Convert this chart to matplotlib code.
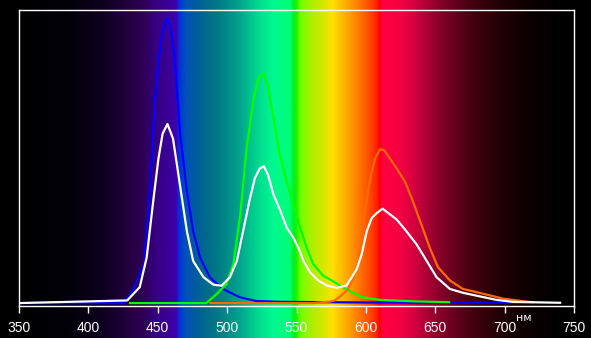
import numpy as np
import matplotlib.pyplot as plt
from matplotlib.colors import LinearSegmentedColormap

# spectrum background: wavelength stops and colours
spec_nm = [350, 385, 410, 430, 440, 448, 458, 463.5, 465, 470, 480, 490, 500, 510,
           524, 533, 545, 548, 550, 553, 560, 570, 576, 585, 595, 603, 608, 610,
           612, 625, 635, 645, 655, 668, 685, 700, 720, 740, 750]
spec_col = ['#000000', '#020008', '#0e0020', '#240040', '#2e0058', '#360080', '#3c0098',
            '#4000b0', '#0030e0', '#0050b8', '#006096', '#007484', '#008a88', '#00a88c',
            '#00e090', '#00f890', '#00ff78', '#00f020', '#20f000', '#70ff00', '#a8f000',
            '#d8e800', '#ffe000', '#ffb000', '#ff7800', '#ff4800', '#ff2000', '#ff0000',
            '#ff0040', '#f40044', '#d4003e', '#a80034', '#820028', '#5a0018', '#320008',
            '#1e0004', '#0a0000', '#000000', '#000000']

# blue channel
blue_nm = [350, 425, 432, 440, 444, 448, 452, 454.5, 457, 460, 462.5, 466, 471, 475.5,
           480.5, 487.5, 497, 509, 521, 540, 600, 716]
blue_val = [0, 0, 0.043, 0.133, 0.358, 0.696, 0.887, 0.944, 0.972, 0.92, 0.81, 0.583,
            0.38, 0.245, 0.155, 0.088, 0.048, 0.02, 0.007, 0.004, 0.002, 0.001]

# green channel
green_nm = [430, 485, 492.5, 499.5, 504.5, 509.5, 514, 519, 522.5, 526.5, 529.5, 533,
            536, 538, 543, 547.7, 552.5, 557.3, 562, 569, 577.5, 587.3, 597, 610, 634, 660]
green_val = [0, 0, 0.031, 0.065, 0.133, 0.302, 0.527, 0.696, 0.769, 0.784, 0.74, 0.64,
             0.56, 0.504, 0.414, 0.335, 0.257, 0.189, 0.133, 0.094, 0.071, 0.043, 0.02,
             0.011, 0.006, 0.003]

# red channel
red_nm = [488, 562, 574, 577.5, 582.3, 587.3, 591, 594.6, 597, 599.4, 601.8, 604.2,
          606.6, 610.2, 613.3, 617.4, 622.2, 628.2, 633, 640, 646, 652, 660.6, 670,
          680, 689.5, 699, 708.7, 718, 720]
red_val = [0, 0, 0.005, 0.009, 0.026, 0.048, 0.088, 0.144, 0.223, 0.313, 0.392, 0.448,
           0.493, 0.525, 0.521, 0.493, 0.459, 0.414, 0.358, 0.268, 0.189, 0.122, 0.077,
           0.048, 0.037, 0.026, 0.015, 0.009, 0.004, 0.003]

# white (sum)
white_nm = [350, 428, 437, 442, 447, 450.5, 453.5, 457, 461, 466, 471, 475.5, 483, 490,
            496, 502, 507, 511.5, 516.5, 520, 523.5, 526.5, 529.5, 533.5, 538, 543,
            547.7, 551.3, 555, 559.7, 565.7, 571.8, 579, 586, 589.8, 593.4, 597, 600.6,
            604.2, 607.8, 612, 616.2, 622.2, 628.2, 636.6, 643.8, 651, 660.6, 670, 682,
            694, 706, 740]
white_val = [0, 0.009, 0.054, 0.155, 0.358, 0.493, 0.578, 0.611, 0.561, 0.403, 0.245,
             0.144, 0.088, 0.063, 0.059, 0.088, 0.144, 0.245, 0.358, 0.426, 0.459, 0.467,
             0.437, 0.369, 0.319, 0.257, 0.223, 0.189, 0.144, 0.105, 0.077, 0.06, 0.052,
             0.06, 0.088, 0.116, 0.167, 0.245, 0.29, 0.307, 0.322, 0.307, 0.285, 0.251,
             0.2, 0.144, 0.088, 0.048, 0.035, 0.023, 0.011, 0.004, 0.001]

xticks = [350, 400, 450, 500, 550, 600, 650, 700, 750]

fig = plt.figure(figsize=(5.91, 3.38), dpi=100, facecolor='black')

left, right = 19 / 591, 574 / 591
bottom, top = 1 - 306 / 338, 1 - 10 / 338

# background gradient over the full figure height
bg = fig.add_axes([left, 0, right - left, 1])
stops = [(n - 350) / 400 for n in spec_nm]
cmap = LinearSegmentedColormap.from_list('spec', list(zip(stops, spec_col)), N=1024)
grad = np.linspace(0, 1, 1200).reshape(1, -1)
bg.imshow(grad, aspect='auto', cmap=cmap, extent=(350, 750, 0, 1), interpolation='bilinear')
bg.set_axis_off()

ax = fig.add_axes([left, bottom, right - left, top - bottom])
ax.patch.set_alpha(0)
lw = 1.6
ax.plot(blue_nm, blue_val, color='#0000ff', lw=lw)
ax.plot(green_nm, green_val, color='#00ff00', lw=lw)
ax.plot(red_nm, red_val, color='#ff6a00', lw=lw)
ax.plot(white_nm, white_val, color='white', lw=lw)

ax.set_xlim(350, 750)
ax.set_ylim(-0.01, 1.0)
ax.set_yticks([])
ax.set_xticks(xticks)
ax.set_xticklabels([str(t) for t in xticks], fontfamily='Liberation Sans', fontsize=10, color='white')
ax.tick_params(axis='x', colors='white', length=5, width=1, pad=6)
for s in ax.spines.values():
    s.set_color('white')
    s.set_linewidth(1)

# unit label (nm)
ax.text(714, -0.052, 'нм', color='white', fontsize=8, fontfamily='DejaVu Sans',
        ha='center', va='center', clip_on=False)

fig.savefig('out.png', dpi=100, facecolor='black')
